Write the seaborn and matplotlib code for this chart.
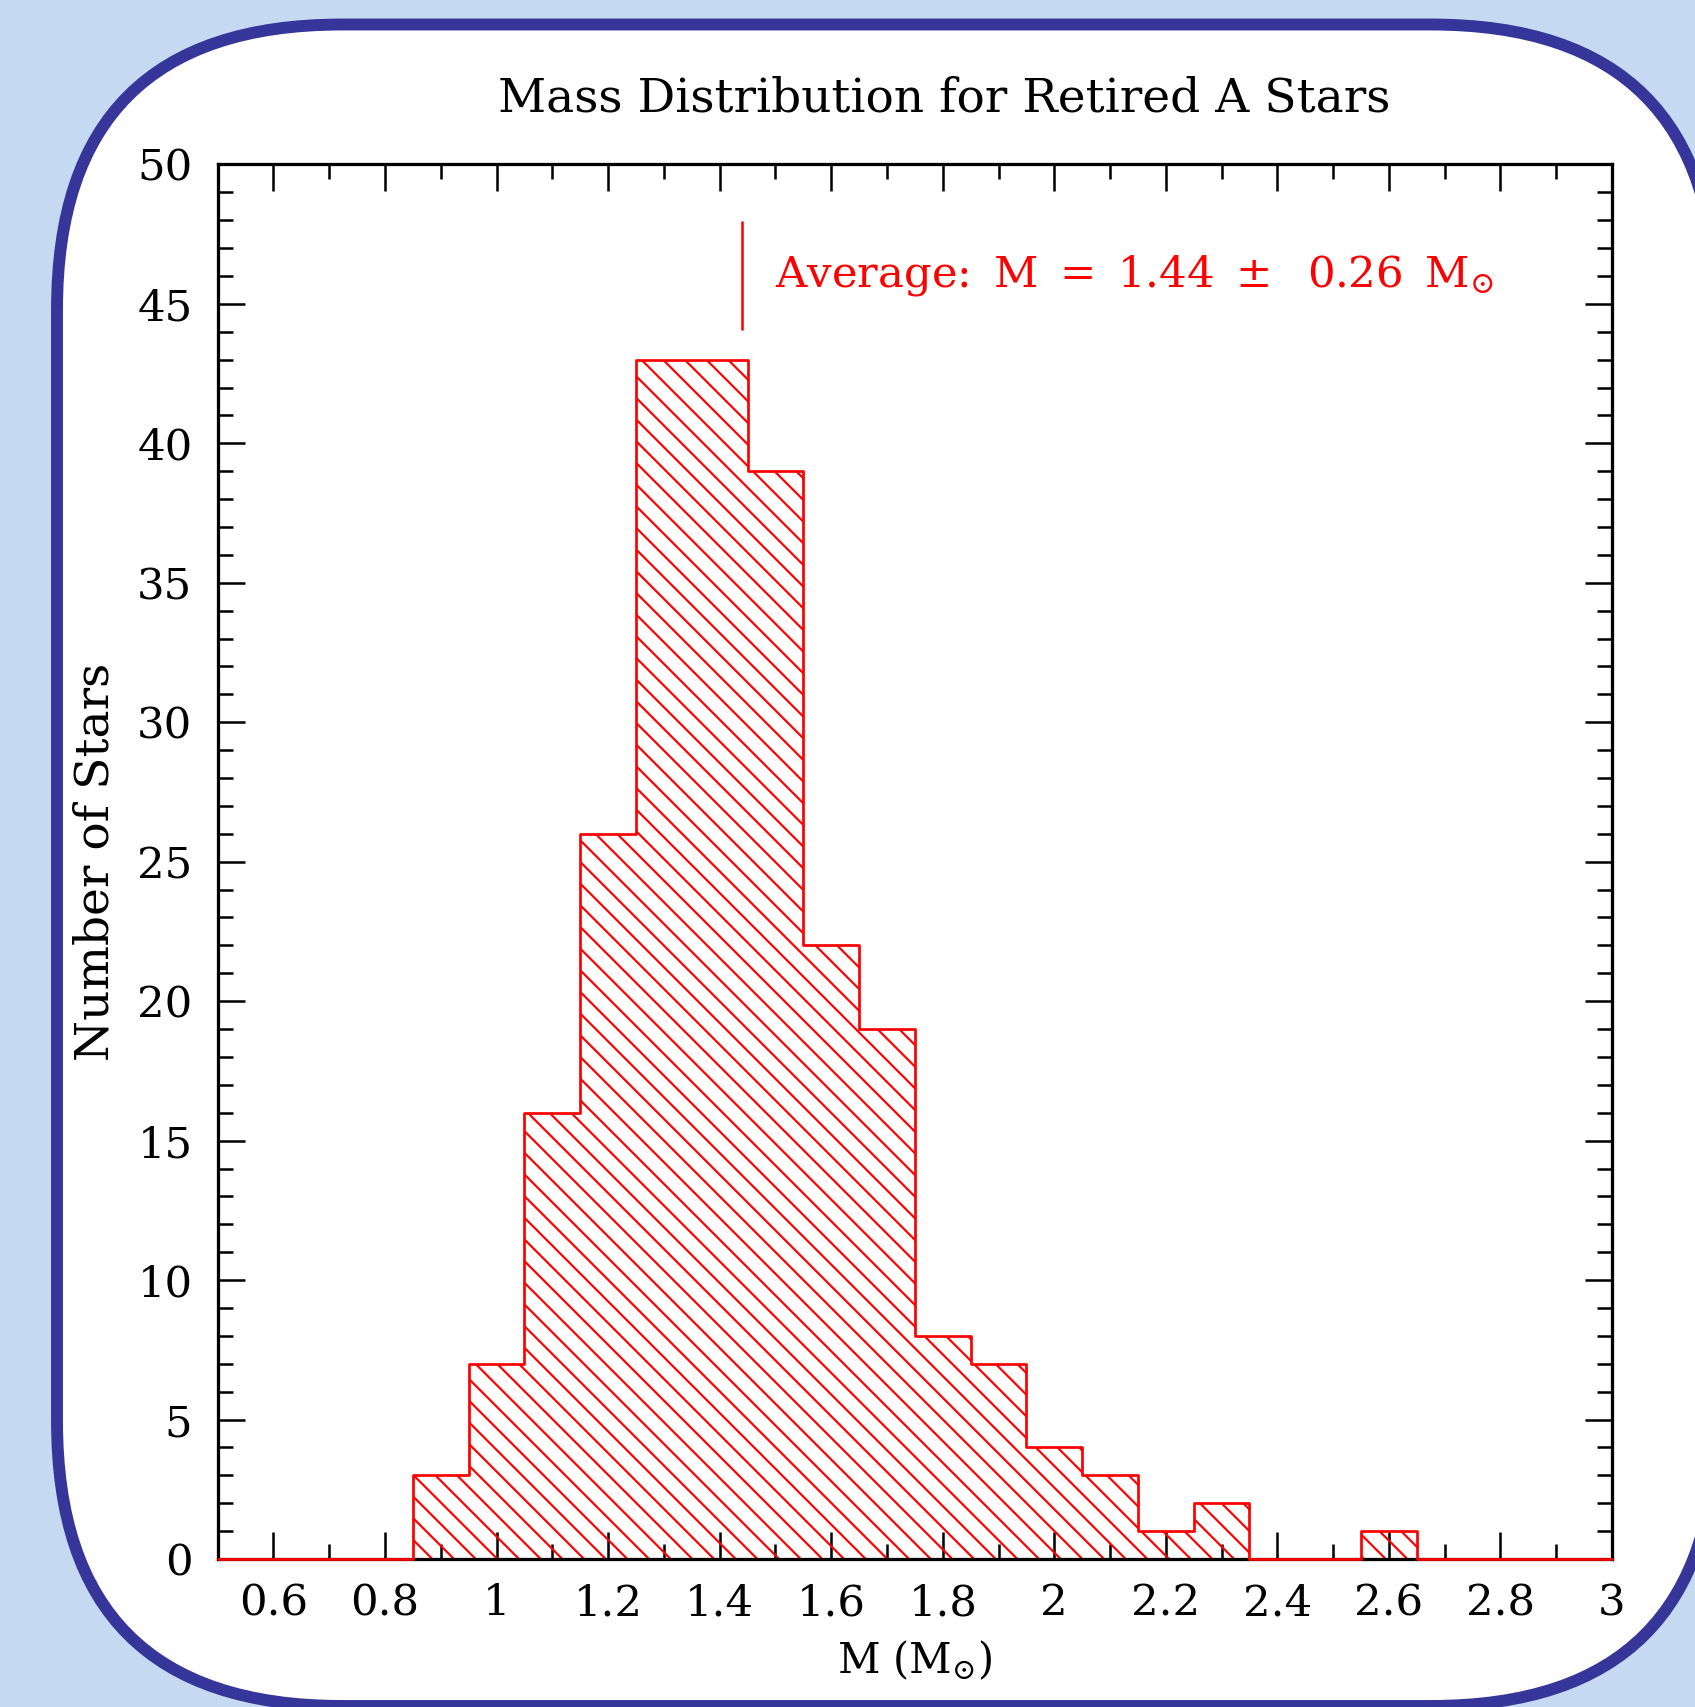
import numpy as np
import pandas as pd
import matplotlib
matplotlib.use("Agg")
import matplotlib.pyplot as plt
import matplotlib.transforms as mtransforms
import seaborn as sns
from matplotlib.patches import FancyBboxPatch
from matplotlib.ticker import MultipleLocator, FuncFormatter

# ---- data ----
bin_edges = [0.5, 0.55, 0.65, 0.75, 0.85, 0.95, 1.05, 1.15, 1.25, 1.35, 1.45,
             1.55, 1.65, 1.75, 1.85, 1.95, 2.05, 2.15, 2.25, 2.35, 2.45, 2.55,
             2.65, 2.75, 2.85, 2.95, 3.0]
star_counts = [0, 0, 0, 0, 3, 7, 16, 26, 43, 43, 39, 22, 19, 8, 7, 4, 3, 1, 2,
               0, 0, 1, 0, 0, 0, 0]
mean_mass = 1.44
std_mass = 0.26
title_text = "Mass Distribution for Retired A Stars"
xlabel_text = r"M (M$_{\odot}$)"
ylabel_text = "Number of Stars"

centers = [(a + b) / 2 for a, b in zip(bin_edges[:-1], bin_edges[1:])]
df = pd.DataFrame({"mass": centers, "count": star_counts})

# ---- style ----
sns.set_theme(style="ticks")
plt.rcParams["font.family"] = ["DejaVu Serif", "DejaVu Sans"]
plt.rcParams["mathtext.fontset"] = "dejavuserif"
plt.rcParams["hatch.linewidth"] = 1.2

DPI = 130
W, H = 1695, 1707
fig = plt.figure(figsize=(W / DPI, H / DPI), dpi=DPI)
fig.patch.set_facecolor("#c5d9f0")

# rounded frame, in pixel coordinates (origin bottom-left)
left_px, right_px, top_px, bottom_px = 57, 1716, 24.5, 1706
frame = FancyBboxPatch((left_px, H - bottom_px), right_px - left_px, bottom_px - top_px,
                       boxstyle="round,pad=0,rounding_size=285",
                       facecolor="white", edgecolor="#35359a", linewidth=6.6,
                       transform=mtransforms.IdentityTransform(), zorder=0)
fig.patches.append(frame)

ax = fig.add_axes([217.7 / W, 1 - 1559 / H, (1612 - 217.7) / W, (1559 - 164.4) / H], zorder=1)
ax.set_facecolor("white")

# hatched fill
sns.histplot(data=df, x="mass", weights="count", bins=bin_edges, element="step",
             fill=True, color="red", facecolor="none", edgecolor="red", linewidth=0,
             hatch="\\\\", ax=ax)
# outline
sns.histplot(data=df, x="mass", weights="count", bins=bin_edges, element="step",
             fill=False, color="red", linewidth=1.5, ax=ax, zorder=3, clip_on=False)

ax.set_xlim(0.5, 3.0)
ax.set_ylim(0, 50)

ax.xaxis.set_major_locator(MultipleLocator(0.2))
ax.xaxis.set_minor_locator(MultipleLocator(0.1))
ax.yaxis.set_major_locator(MultipleLocator(5))
ax.yaxis.set_minor_locator(MultipleLocator(1))
ax.xaxis.set_major_formatter(FuncFormatter(lambda v, p: f"{v:g}"))
ax.yaxis.set_major_formatter(FuncFormatter(lambda v, p: f"{v:g}"))

for s in ax.spines.values():
    s.set_linewidth(1.8)
    s.set_color("black")
    s.set_visible(True)

ax.tick_params(which="both", direction="in", top=True, right=True, color="black",
               width=1.4, labelsize=24, labelcolor="black")
ax.tick_params(which="major", length=15)
ax.tick_params(which="minor", length=8.3)
ax.tick_params(axis="x", which="major", pad=13)
ax.tick_params(axis="y", which="major", pad=14)

ax.set_xlabel(xlabel_text, fontsize=23, color="black")
ax.set_ylabel(ylabel_text, fontsize=26, color="black")
ax.xaxis.label.set_va("center")
ax.xaxis.set_label_coords(0.5, -0.0726)
ax.yaxis.label.set_va("center")
ax.yaxis.set_label_coords(-(217.7 - 95.8) / (1612 - 217.7), 0.5)

# average marker
gap = "\u2002"
ax.vlines(mean_mass, 44.05, 47.97, color="red", linewidth=1.4)
ax.text(1.50, 46.0,
        f"Average:{gap}M{gap}={gap}{mean_mass:.2f}{gap}\u00b1{gap} {std_mass:.2f}{gap}M$_{{\\odot}}$",
        color="red", fontsize=24, va="center", ha="left")

fig.text(0.5568, 1 - 99 / H, title_text, fontsize=26, ha="center", va="center",
         color="black")

fig.savefig("out.png", dpi=DPI)
